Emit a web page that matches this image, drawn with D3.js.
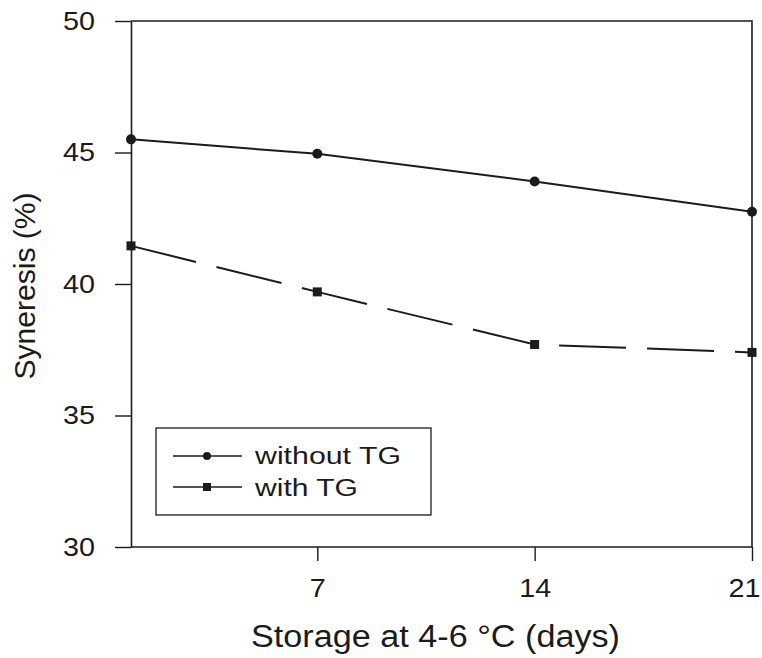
<!DOCTYPE html>
<html>
<head>
<meta charset="utf-8">
<script src="https://cdn.jsdelivr.net/npm/d3@7"></script>
<style>
  html, body { margin: 0; padding: 0; background: #fff; }
  svg { display: block; font-family: "Liberation Sans", Arial, sans-serif; }
</style>
</head>
<body>
<svg id="chart" width="762" height="658"></svg>
<script>
// Storage days and syneresis (%) of the two yoghurt treatments
const days = [1, 7, 14, 21];
const withoutTG = [45.5, 44.95, 43.9, 42.75];
const withTG = [41.45, 39.7, 37.7, 37.4];
const xTicks = [7, 14, 21];
const yTicks = [30, 35, 40, 45, 50];
const seriesNames = ["without TG", "with TG"];

const ink = "#1b1b1b";
const svg = d3.select("#chart");

const plot = { left: 131, right: 752, top: 21, bottom: 547 };
const x = d3.scaleLinear().domain([1, 21]).range([plot.left, plot.right]);
const y = d3.scaleLinear().domain([30, 50]).range([plot.bottom, plot.top]);

// Frame: top and right edges
svg.append("path")
  .attr("d", `M${plot.left},${plot.top}H${plot.right}V${plot.bottom}`)
  .attr("fill", "none").attr("stroke", ink).attr("stroke-width", 1.6);

// Left axis
const yAxis = svg.append("g")
  .attr("transform", `translate(${plot.left},0)`)
  .call(d3.axisLeft(y).tickValues(yTicks).tickSize(16).tickPadding(20).tickSizeOuter(0));
// Bottom axis
const xAxis = svg.append("g")
  .attr("transform", `translate(0,${plot.bottom})`)
  .call(d3.axisBottom(x).tickValues(xTicks).tickSize(14).tickPadding(18).tickSizeOuter(0));

[yAxis, xAxis].forEach(a => {
  a.select(".domain").attr("stroke", ink).attr("stroke-width", 1.6);
  a.selectAll(".tick line").attr("stroke", ink).attr("stroke-width", 1.4);
  a.selectAll(".tick text")
    .attr("fill", ink)
    .style("font-size", "25px")
    .style("font-family", "'Liberation Sans', Arial, sans-serif")
    .attr("textLength", d => String(d).length * 16)
    .attr("lengthAdjust", "spacingAndGlyphs");
});
// extend bottom axis to the left edge
xAxis.select(".domain").attr("d", `M${plot.left},0H${plot.right}`);
// keep the last day label inside the page
xAxis.selectAll(".tick text").filter(d => d === 21).attr("x", -8);

// Axis titles
svg.append("text")
  .attr("x", 435.5).attr("y", 647)
  .attr("text-anchor", "middle")
  .attr("fill", ink)
  .style("font-size", "31px")
  .attr("textLength", 369).attr("lengthAdjust", "spacingAndGlyphs")
  .text("Storage at 4-6 °C (days)");

svg.append("text")
  .attr("transform", "translate(35,286) rotate(-90)")
  .attr("text-anchor", "middle")
  .attr("fill", ink)
  .style("font-size", "30px")
  .attr("textLength", 187).attr("lengthAdjust", "spacingAndGlyphs")
  .text("Syneresis (%)");

// Series lines
const line = d3.line().x(d => x(d[0])).y(d => y(d[1]));
const ptsA = days.map((d, i) => [d, withoutTG[i]]);
const ptsB = days.map((d, i) => [d, withTG[i]]);

svg.append("path").datum(ptsA)
  .attr("d", line).attr("fill", "none")
  .attr("stroke", ink).attr("stroke-width", 2);

svg.append("path").datum(ptsB)
  .attr("d", line).attr("fill", "none")
  .attr("stroke", ink).attr("stroke-width", 2)
  .attr("stroke-dasharray", "67,21");

// Markers
svg.append("g").selectAll("circle").data(ptsA).join("circle")
  .attr("cx", d => x(d[0])).attr("cy", d => y(d[1]))
  .attr("r", 5).attr("fill", ink);

const sq = 9;
svg.append("g").selectAll("rect").data(ptsB).join("rect")
  .attr("x", d => x(d[0]) - sq / 2).attr("y", d => y(d[1]) - sq / 2)
  .attr("width", sq).attr("height", sq).attr("fill", ink);

// Legend
const legend = svg.append("g");
legend.append("rect")
  .attr("x", 156).attr("y", 428).attr("width", 275).attr("height", 87)
  .attr("fill", "#fff").attr("stroke", ink).attr("stroke-width", 1.3);

const rows = [
  { name: seriesNames[0], cy: 456, base: 464, len: 146, mark: "circle" },
  { name: seriesNames[1], cy: 487, base: 496, len: 103, mark: "square" }
];
rows.forEach(r => {
  legend.append("line")
    .attr("x1", 173).attr("x2", 242).attr("y1", r.cy).attr("y2", r.cy)
    .attr("stroke", ink).attr("stroke-width", 1.4);
  if (r.mark === "circle") {
    legend.append("circle").attr("cx", 207).attr("cy", r.cy).attr("r", 4).attr("fill", ink);
  } else {
    legend.append("rect").attr("x", 203).attr("y", r.cy - 4).attr("width", 8).attr("height", 8).attr("fill", ink);
  }
  legend.append("text")
    .attr("x", 255).attr("y", r.base)
    .attr("fill", ink)
    .style("font-size", "23px")
    .attr("textLength", r.len).attr("lengthAdjust", "spacingAndGlyphs")
    .text(r.name);
});
</script>
</body>
</html>
